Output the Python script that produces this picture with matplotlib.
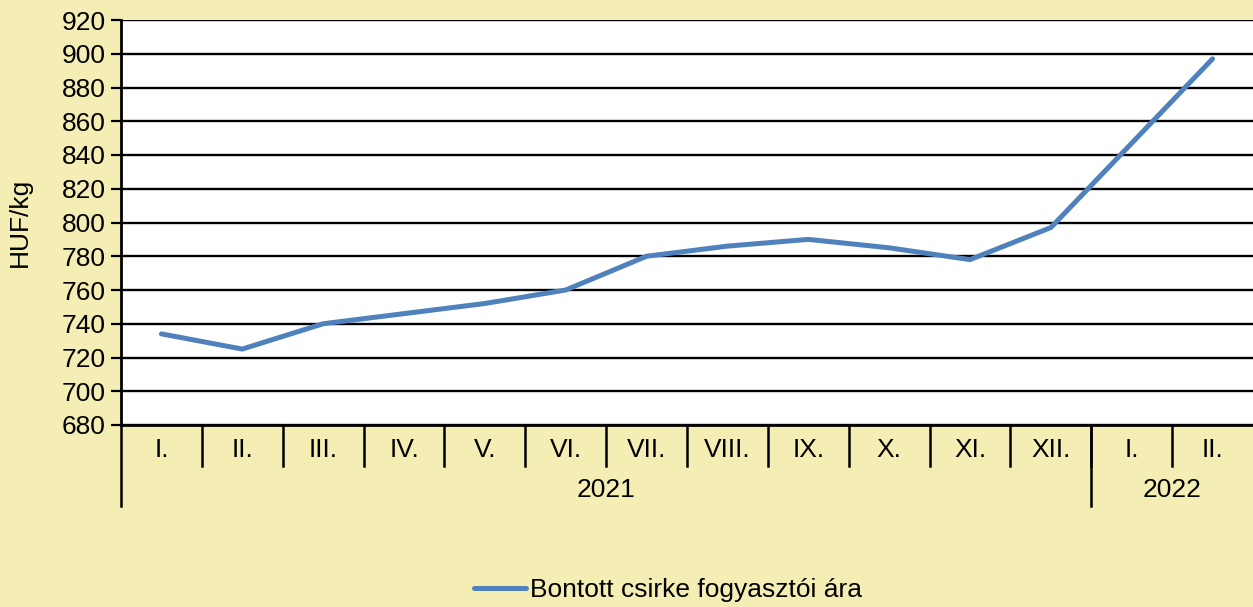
import numpy as np
import matplotlib.pyplot as plt

plt.rcParams['font.family'] = ['Liberation Sans', 'DejaVu Sans']

months = ['I.', 'II.', 'III.', 'IV.', 'V.', 'VI.', 'VII.', 'VIII.', 'IX.', 'X.', 'XI.', 'XII.', 'I.', 'II.']
years = ['2021', '2022']
year_counts = [12, 2]
price = [734, 725, 740, 746, 752, 760, 780, 786, 790, 785, 778, 797, 847, 897]

bg = '#F5EEB4'
blue = '#4F81BD'
fs = 19

fig = plt.figure(figsize=(12.53, 6.07), dpi=100, facecolor=bg)
ax = fig.add_axes([121/1253, 182/607, 1 - 121/1253, 405/607])
ax.set_facecolor('white')

x = np.arange(len(months))
ax.plot(x, price, color=blue, lw=3.6, solid_capstyle='round', solid_joinstyle='round',
        label='Bontott csirke fogyasztói ára', zorder=3)

ax.set_xlim(-0.5, len(months) - 0.5)
ax.set_ylim(680, 920)
ax.set_yticks(np.arange(680, 921, 20))
ax.tick_params(axis='y', labelsize=fs, length=7, width=1.6, color='black', pad=4)
ax.yaxis.grid(True, color='black', lw=1.7)
ax.set_axisbelow(True)
ax.set_xticks([])
for s in ['top', 'right']:
    ax.spines[s].set_visible(False)
ax.spines['left'].set_linewidth(2)
ax.spines['bottom'].set_linewidth(2)
ax.set_ylabel('HUF/kg', fontsize=fs)
ax.yaxis.set_label_coords(-0.0786, 0.5)

tr = ax.get_xaxis_transform()
# month labels and separators
for i, m in enumerate(months):
    ax.text(i, -0.062, m, transform=tr, ha='center', va='center', fontsize=fs)
for b in range(1, len(months)):
    ax.plot([b - 0.5, b - 0.5], [0, -0.101], transform=tr, color='black', lw=1.8, clip_on=False)
# year labels and separators
start = 0
edges = [-0.5]
for yname, cnt in zip(years, year_counts):
    ax.text(start + (cnt - 1) / 2, -0.16, yname, transform=tr, ha='center', va='center', fontsize=fs)
    start += cnt
    edges.append(start - 0.5)
for e in edges[:-1]:
    ax.plot([e, e], [0, -0.2], transform=tr, color='black', lw=1.8, clip_on=False)

fig.legend(loc='center', bbox_to_anchor=(668/1253, 1 - 590/607), frameon=False, fontsize=fs,
           handlelength=2.0, handletextpad=0.15)

fig.savefig('out.png', dpi=100, facecolor=bg)
